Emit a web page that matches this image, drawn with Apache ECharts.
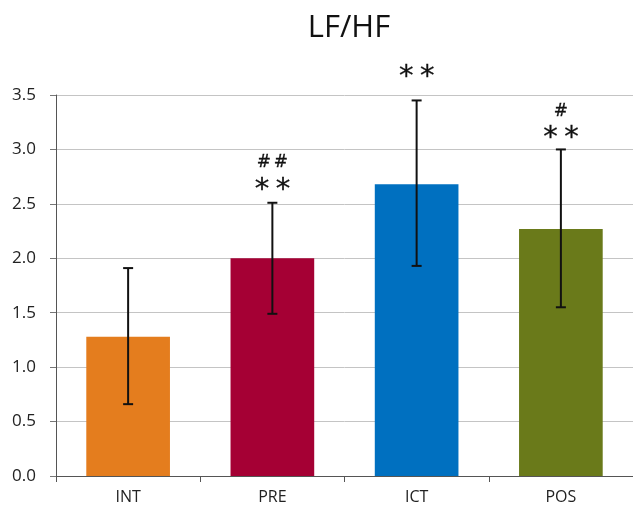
<!DOCTYPE html>
<html><head><meta charset="utf-8">
<script src="https://cdn.jsdelivr.net/npm/echarts@6/dist/echarts.min.js"></script>
<style>html,body{margin:0;padding:0;background:#fff}#c{width:633px;height:512px}</style>
</head><body><div id="c"></div>
<script>
var categories = ['INT', 'PRE', 'ICT', 'POS'];
var means = [1.28, 2.00, 2.68, 2.27];
var errLow = [0.66, 1.49, 1.93, 1.55];
var errHigh = [1.91, 2.51, 3.45, 3.00];
var barColors = ['#E47D1E', '#A50034', '#0070C0', '#6A7A1A'];
var starMarks = ['', '**', '**', '**'];
var starLevels = [null, 2.70, 3.73, 3.17];
var hashMarks = ['', '##', '', '#'];
var hashLevels = [null, 2.88, null, 3.35];
var yTicks = [0, 0.5, 1.0, 1.5, 2.0, 2.5, 3.0, 3.5];

var chart = echarts.init(document.getElementById('c'));
var FONT = '"Open Sans", "DejaVu Sans", sans-serif';
chart.setOption({
  animation: false,
  title: {text: 'LF/HF', left: 344, top: 8, textAlign: 'center',
    textStyle: {fontFamily: FONT, fontSize: 31, fontWeight: 'normal', color: '#111'}},
  grid: {left: 56, right: 0, top: 95, bottom: 36},
  xAxis: {type: 'category', data: categories,
    axisLine: {lineStyle: {color: '#555', width: 1}},
    axisTick: {show: true, length: 6, lineStyle: {color: '#555'}},
    axisLabel: {fontFamily: FONT, fontSize: 16, color: '#222', margin: 13}},
  yAxis: {type: 'value', min: 0, max: 3.5, interval: 0.5,
    axisLine: {show: true, lineStyle: {color: '#555'}},
    axisTick: {show: true, length: 6, lineStyle: {color: '#777'}},
    splitLine: {lineStyle: {color: '#c4c4c4'}},
    axisLabel: {fontFamily: FONT, fontSize: 17, color: '#222', margin: 20,
      formatter: function(v){ return v.toFixed(1); }}},
  series: [
    {type: 'bar', barWidth: '58%',
     data: means.map(function(v, i){ return {value: v, itemStyle: {color: barColors[i]}}; })},
    {type: 'custom', z: 10,
     data: categories.map(function(c, i){ return [i, errLow[i], errHigh[i]]; }),
     renderItem: function(params, api){
       var lo = api.coord([api.value(0), api.value(1)]);
       var hi = api.coord([api.value(0), api.value(2)]);
       var hw = 5;
       var st = {stroke: '#111', lineWidth: 2};
       return {type: 'group', children: [
         {type: 'line', shape: {x1: lo[0], y1: lo[1], x2: hi[0], y2: hi[1]}, style: st},
         {type: 'line', shape: {x1: lo[0]-hw, y1: lo[1], x2: lo[0]+hw, y2: lo[1]}, style: st},
         {type: 'line', shape: {x1: hi[0]-hw, y1: hi[1], x2: hi[0]+hw, y2: hi[1]}, style: st}
       ]};
     }},
    {type: 'custom', z: 11,
     data: categories.map(function(c, i){ return [i, starLevels[i] == null ? 0 : starLevels[i], hashLevels[i] == null ? 0 : hashLevels[i]]; }),
     renderItem: function(params, api){
       var i = params.dataIndex;
       var kids = [];
       var p = null;
       function addMarks(str, cx, cy, gap, size) {
         var n = str.length;
         for (var k = 0; k < n; k++) {
           kids.push({type: 'text', style: {text: str.charAt(k), x: cx + (k - (n - 1) / 2) * gap, y: cy,
             align: 'center', verticalAlign: 'middle', fontFamily: '"DejaVu Sans", sans-serif', fontSize: size,
             fill: '#111', stroke: '#111', lineWidth: 0.3}});
         }
       }
       if (starMarks[i]) {
         p = api.coord([api.value(0), api.value(1)]);
         addMarks(starMarks[i], p[0], p[1] + 8, 21, 29);
       }
       if (hashMarks[i]) {
         var q = api.coord([api.value(0), api.value(2)]);
         addMarks(hashMarks[i], p ? p[0] : q[0], q[1], 17, 17);
       }
       return {type: 'group', children: kids};
     }}
  ]
});
</script></body></html>
